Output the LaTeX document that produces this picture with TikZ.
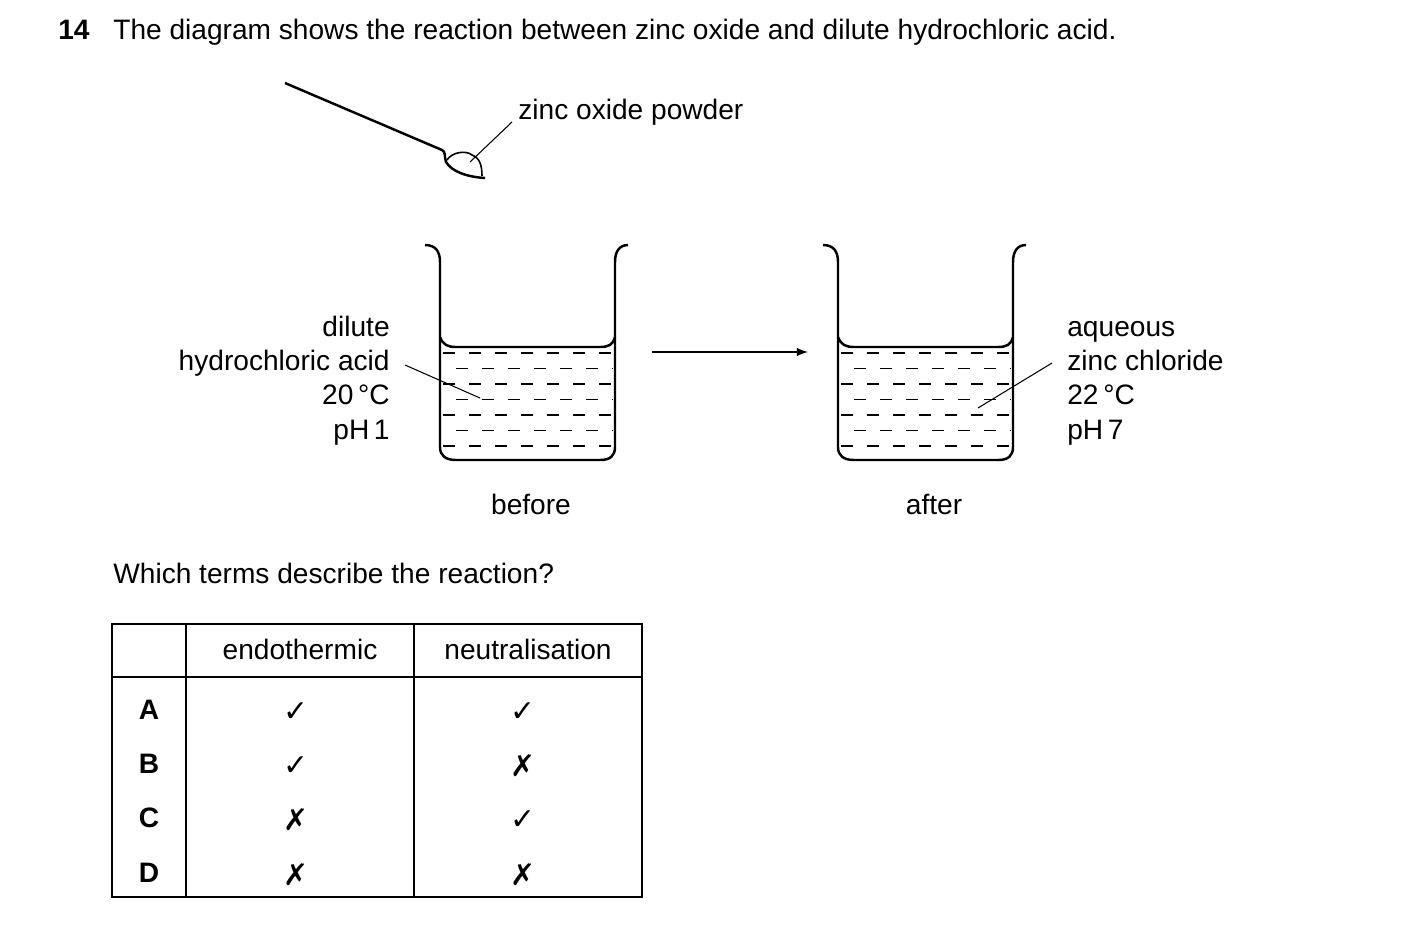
\documentclass[tikz,border=0pt]{standalone}
\usepackage{fontspec}
\setmainfont{Liberation Sans}
\newfontfamily\sym{DejaVu Sans}
\begin{document}
\begin{tikzpicture}[x=0.02cm,y=-0.02cm,
  txt/.style={font=\fontsize{16}{19}\selectfont,inner sep=0pt,text height=11.5pt,text depth=3.2pt},
  ln/.style={line width=0.6pt},
  wall/.style={line width=1.4pt},
  mk/.style={font=\sym\fontsize{17}{19}\selectfont,inner sep=0pt}]
\useasboundingbox (0,0) rectangle (1403,951);
\node[txt,anchor=west,font=\bfseries\fontsize{16}{19}\selectfont] (q) at (58,32) {14};
\node[txt,anchor=west] (title) at (113,32) {The diagram shows the reaction between zinc oxide and dilute hydrochloric acid.};
% spoon
\draw[wall] (285,83) -- (442,150) .. controls (446,152) and (444,156) .. (446,162) .. controls (452,172) and (468,177) .. (485,178);
\draw[line width=0.9pt] (447,160) .. controls (452,152) and (466,150) .. (472,155) .. controls (480,158) and (482,166) .. (482,176);
\node[txt,anchor=west] (zo) at (518,112) {zinc oxide powder};
\coordinate (zs) at (512,122); \coordinate (zp) at (470,162);
\draw[ln] (zs) -- (zp);
% beakers
\foreach \dx/\nm in {0/b1,398/b2}{
 \begin{scope}[xshift=\dx*0.02cm]
  \draw[wall] (425,245) .. controls (436,245) and (440,252) .. (440,262) -- (440,447) .. controls (440,456) and (446,460) .. (456,460) -- (600,460) .. controls (610,460) and (615,456) .. (615,447) -- (615,262) .. controls (615,252) and (619,245) .. (628,245);
  \draw[wall] (440,337) .. controls (443,345) and (448,347) .. (456,347) -- (600,347) .. controls (608,347) and (613,345) .. (615,337);
  \foreach \r in {0,...,6}{
   \pgfmathsetmacro\yy{353+15.5*\r}
   \pgfmathsetmacro\ph{mod(\r,2)*0.26}
   \draw[ln,dash pattern=on 0.24cm off 0.28cm,dash phase=\ph cm] (443,\yy) -- (613,\yy);
  }
 \end{scope}}
\node[txt] (bef) at (531,507) {before};
\node[txt] (aft) at (934,507) {after};
\coordinate (a1) at (652,352); \coordinate (a2) at (808,352);
\draw[line width=1.2pt,-latex] (a1) -- (a2);
% labels
\node[txt,anchor=east] (l1) at (390,329) {dilute};
\node[txt,anchor=east] (l2) at (390,363) {hydrochloric acid};
\node[txt,anchor=east] (l3) at (390,397) {20\,°C};
\node[txt,anchor=east] (l4) at (390,432) {pH\,1};
\coordinate (h1) at (405,365); \coordinate (h2) at (480,398);
\draw[ln] (h1) -- (h2);
\node[txt,anchor=west] (r1) at (1067,329) {aqueous};
\node[txt,anchor=west] (r2) at (1067,363) {zinc chloride};
\node[txt,anchor=west] (r3) at (1067,397) {22\,°C};
\node[txt,anchor=west] (r4) at (1067,432) {pH\,7};
\coordinate (k1) at (1052,363); \coordinate (k2) at (978,408);
\draw[ln] (k1) -- (k2);
\node[txt,anchor=west] (qq) at (113,576) {Which terms describe the reaction?};
% table
\draw[line width=1pt] (112,624) rectangle (642,897);
\draw[line width=1pt] (186,624) -- (186,897) (414,624) -- (414,897) (112,677) -- (642,677);
\node[txt] (h1t) at (300,652) {endothermic};
\node[txt] (h2t) at (528,652) {neutralisation};
\foreach \L/\y/\a/\b in {A/712/✓/✓,B/766/✓/✗,C/820/✗/✓,D/875/✗/✗}{
  \node[txt,font=\bfseries\fontsize{16}{19}\selectfont] at (149,\y) {\L};
  \node[mk] at (296,\y) {\a};
  \node[mk] at (523,\y) {\b};
}
\end{tikzpicture}
\end{document}
